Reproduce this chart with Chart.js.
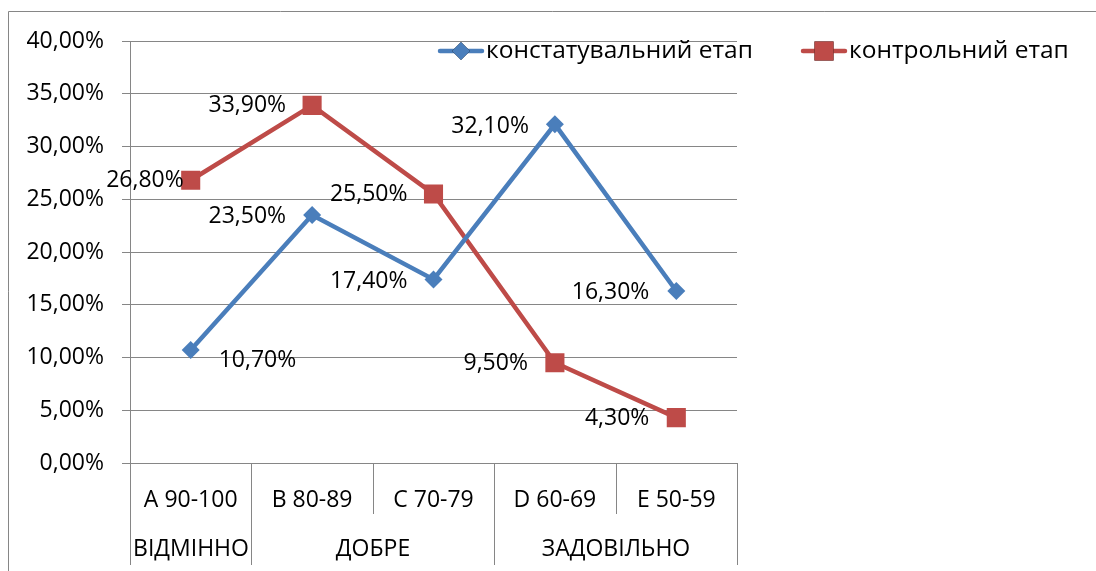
<!DOCTYPE html>
<html>
<head>
<meta charset="utf-8">
<script src="https://cdn.jsdelivr.net/npm/chart.js@4"></script>
<style>
  body { margin: 0; background: #fff; }
  canvas { display: block; }
</style>
</head>
<body>
<canvas id="chart" width="1096" height="571"></canvas>
<script>
// ─── data ───
const categories = ['A 90-100', 'B 80-89', 'C 70-79', 'D 60-69', 'E 50-59'];
const groupLabels = ['ВІДМІННО', 'ДОБРЕ', 'ЗАДОВІЛЬНО'];
const groupSpans = [1, 2, 2];
const seriesNames = ['констатувальний етап', 'контрольний етап'];
const stageA = [10.7, 23.5, 17.4, 32.1, 16.3];
const stageB = [26.8, 33.9, 25.5, 9.5, 4.3];

const FONT = '"Open Sans"';
const FSIZE = 23;
const LEGEND_SIZE = 24.5;
const GRID = '#868686';
const fmt = v => v.toFixed(2).replace('.', ',') + '%';

// label placement per point: [dx, dy, align]
const labelPos = [
  [[28, 10, 'left'], [-26, 1, 'right'], [-26, 2, 'right'], [-26, 2, 'right'], [-27, 1, 'right']],
  [[-7, 0, 'right'], [-26, 0, 'right'], [-26, 0, 'right'], [-27, 1, 'right'], [-27, 1, 'right']]
];

const extras = {
  id: 'extras',
  beforeDraw(chart) {
    const c = chart.ctx;
    c.save();
    c.strokeStyle = GRID;
    c.lineWidth = 1;
    c.beginPath();
    c.moveTo(8.5, 571);
    c.lineTo(8.5, 11.5);
    c.lineTo(1096, 11.5);
    c.stroke();
    c.restore();
  },
  afterDraw(chart) {
    const c = chart.ctx;
    const x = chart.scales.x;
    const area = chart.chartArea;
    const half = (x.getPixelForValue(1) - x.getPixelForValue(0)) / 2;
    c.save();
    c.strokeStyle = GRID;
    c.lineWidth = 1;
    // category separators
    const bounds = [];
    for (let i = 0; i <= categories.length; i++) bounds.push(Math.round(x.getPixelForValue(i) - half) + 0.5);
    const groupEdges = [0];
    groupSpans.forEach(s => groupEdges.push(groupEdges[groupEdges.length - 1] + s));
    bounds.forEach((bx, i) => {
      const bottom = groupEdges.includes(i) ? 565 : 514;
      c.beginPath();
      c.moveTo(bx, area.bottom);
      c.lineTo(bx, bottom);
      c.stroke();
    });
    // group labels
    c.fillStyle = '#000';
    c.font = FSIZE + 'px ' + FONT;
    c.textAlign = 'center';
    c.textBaseline = 'middle';
    groupLabels.forEach((g, i) => {
      const cx = (bounds[groupEdges[i]] + bounds[groupEdges[i + 1]]) / 2;
      c.fillText(g, cx, 549);
    });
    // data labels
    chart.data.datasets.forEach((ds, di) => {
      const meta = chart.getDatasetMeta(di);
      meta.data.forEach((pt, i) => {
        const p = labelPos[di][i];
        c.textAlign = p[2];
        c.fillText(fmt(ds.data[i]), pt.x + p[0], pt.y + p[1]);
      });
    });
    // legend
    const legendX = [440, 803];
    c.font = LEGEND_SIZE + 'px ' + FONT;
    chart.data.datasets.forEach((ds, di) => {
      const lx = legendX[di], ly = 51;
      c.strokeStyle = ds.borderColor;
      c.lineWidth = 4.5;
      c.lineCap = 'round';
      c.beginPath();
      c.moveTo(lx, ly);
      c.lineTo(lx + 42, ly);
      c.stroke();
      Chart.helpers.drawPoint(c, {
        pointStyle: ds.pointStyle, radius: ds.pointRadius, borderWidth: 0, rotation: 0
      }, lx + 21, ly);
      c.fillStyle = ds.pointBackgroundColor;
      c.fill();
      c.fillStyle = '#000';
      c.textAlign = 'left';
      c.fillText(ds.label, lx + 46, ly);
    });
    c.restore();
  }
};

new Chart(document.getElementById('chart'), {
  type: 'line',
  data: {
    labels: categories,
    datasets: [
      {
        label: seriesNames[0],
        data: stageA,
        borderColor: '#4A7EBB',
        backgroundColor: '#4A7EBB',
        pointBackgroundColor: '#4A7EBB',
        pointBorderWidth: 0,
        borderWidth: 4.5,
        pointStyle: 'rectRot',
        pointRadius: 9,
        tension: 0
      },
      {
        label: seriesNames[1],
        data: stageB,
        borderColor: '#BE4B48',
        backgroundColor: '#BE4B48',
        pointBackgroundColor: '#BE4B48',
        pointBorderWidth: 0,
        borderWidth: 4.5,
        pointStyle: 'rect',
        pointRadius: 13.5,
        tension: 0
      }
    ]
  },
  options: {
    responsive: false,
    animation: false,
    devicePixelRatio: 1,
    layout: { padding: { left: 0, top: 41, right: 359, bottom: 0 } },
    plugins: { legend: { display: false }, tooltip: { enabled: false } },
    scales: {
      x: {
        offset: true,
        grid: { display: false },
        border: { display: false },
        ticks: { color: '#000', font: { size: FSIZE, family: FONT }, padding: 16, maxRotation: 0 },
        afterFit: s => { s.height = 108; }
      },
      y: {
        min: 0,
        max: 40,
        ticks: { stepSize: 5, color: '#000', font: { size: FSIZE, family: FONT }, padding: 18, callback: v => fmt(v) },
        grid: { color: GRID, tickLength: 8 },
        border: { display: true, color: GRID },
        afterFit: s => { s.width = 130; }
      }
    }
  },
  plugins: [extras]
});
</script>
</body>
</html>
